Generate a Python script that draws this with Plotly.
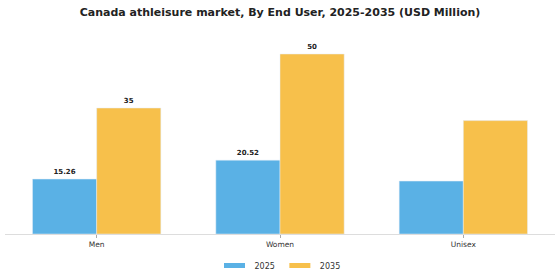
import plotly.graph_objects as go

categories = ["Men", "Women", "Unisex"]
values_2025 = [15.26, 20.52, 14.7]
values_2035 = [35, 50, 31.5]
labels_2025 = ["15.26", "20.52", ""]
labels_2035 = ["35", "50", ""]
series_names = ["2025", "2035"]

blue = "#5AB1E5"
orange = "#F7C04B"

fig = go.Figure()
fig.add_trace(go.Bar(name=series_names[0], x=categories, y=values_2025, marker_color=blue,
                     text=labels_2025, textposition="outside", cliponaxis=False, showlegend=False,
                     textfont=dict(size=7, color="#222", family="DejaVu Sans", weight="bold")))
fig.add_trace(go.Bar(name=series_names[1], x=categories, y=values_2035, marker_color=orange,
                     text=labels_2035, textposition="outside", cliponaxis=False, showlegend=False,
                     textfont=dict(size=7, color="#222", family="DejaVu Sans", weight="bold")))
# legend entries drawn as wide rectangles
for name, col in zip(series_names, [blue, orange]):
    fig.add_trace(go.Scatter(name=name, x=[None], y=[None], mode="markers",
                             marker=dict(symbol="line-ew", size=15, color=col,
                                         line=dict(color=col, width=5))))

fig.update_layout(
    width=560, height=280,
    margin=dict(l=5, r=5, t=36, b=45.5, autoexpand=False),
    barmode="group", bargap=0.3, bargroupgap=0,
    plot_bgcolor="white", paper_bgcolor="white",
    title=dict(text="<b>Canada athleisure market, By End User, 2025-2035 (USD Million)</b>",
               x=0.5, xanchor="center", y=0.957, yanchor="middle",
               font=dict(size=11, family="DejaVu Sans", color="#222")),
    font=dict(family="DejaVu Sans", size=8, color="#333"),
    legend=dict(orientation="h", x=0.5, xanchor="center", yref="container", y=0.052, yanchor="middle",
                font=dict(size=8, color="#333"), itemwidth=30, traceorder="normal"),
    xaxis=dict(showline=True, linecolor="#ddd", linewidth=1, ticks="outside", automargin=False,
               ticklen=3, tickcolor="#aaa", tickfont=dict(size=7.5, color="#333")),
    yaxis=dict(visible=False, range=[0, 55], showgrid=False),
    showlegend=True,
)

fig.write_html("out.html")
